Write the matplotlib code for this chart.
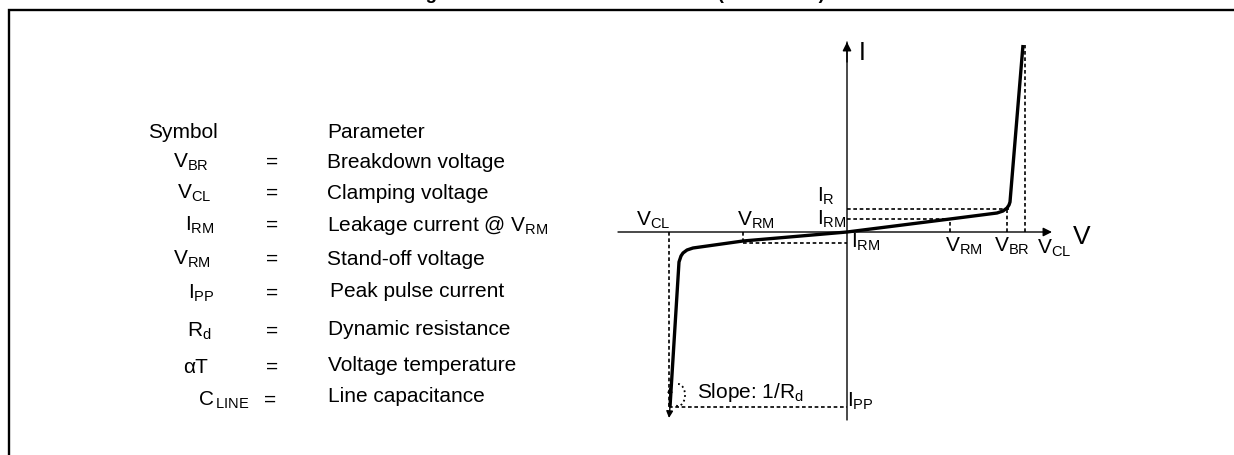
import matplotlib
matplotlib.use("Agg")
import matplotlib.pyplot as plt
from matplotlib.patches import Arc

plt.rcParams["font.family"] = ["Liberation Sans", "DejaVu Sans"]
plt.rcParams["mathtext.fontset"] = "custom"
plt.rcParams["mathtext.rm"] = "Liberation Sans"

# --- parameter table ---
symbols = [r"$\mathregular{V_{BR}}$", r"$\mathregular{V_{CL}}$", r"$\mathregular{I_{RM}}$",
           r"$\mathregular{V_{RM}}$", r"$\mathregular{I_{PP}}$", r"$\mathregular{R_{d}}$",
           "\u03b1T", r"$\mathregular{C_{\,LINE}}$"]
params = ["Breakdown voltage", "Clamping voltage", r"Leakage current @ $\mathregular{V_{RM}}$",
          "Stand-off voltage", "Peak pulse current", "Dynamic resistance",
          "Voltage temperature", "Line capacitance"]

# --- I/V characteristic (units: px from origin, V right, I up) ---
right_v = [0, 103, 150, 156, 160, 162, 163, 176]
right_i = [0, 13, 19, 21, 24, 27, 30, 187]
left_v = [0, -104, -154, -160, -164, -166, -168, -177]
left_i = [0, -9, -16, -18, -21, -24, -30, -175]

v_rm, v_br, v_cl = 103, 160, 178
v_rm_neg, v_cl_neg = -104, -178
i_rm, i_r, i_top = 13, 23, 187
i_rm_neg, i_pp, i_end = -11, -175, -186

fig = plt.figure(figsize=(12.34, 4.55), dpi=100)

# pixel-space layer for frame, title and table
ax = fig.add_axes([0, 0, 1, 1])
ax.set_xlim(0, 1234)
ax.set_ylim(455, 0)
ax.axis("off")

ax.plot([8.5, 8.5, 1240], [460, 10, 10], color="k", lw=1.7, solid_joinstyle="miter")
ax.text(617, -0.8, "Figure 2. Electrical characteristics (definitions)", ha="center",
        va="baseline", fontsize=13.5, fontweight="bold")

fs = 15
ax.text(148, 138, "Symbol", fontsize=fs, va="baseline")
ax.text(327, 138, "Parameter", fontsize=fs, va="baseline")
sym_x = [173, 177, 185, 173, 188, 187, 183, 198]
sym_y = [168, 199, 231, 265, 299, 337, 373, 406]
par_x = [327, 327, 327, 327, 330, 328, 328, 328]
par_y = [168, 199, 231, 265, 297, 335, 371, 402]
eq_x = [272, 272, 272, 272, 272, 272, 272, 270]
for k in range(len(symbols)):
    ax.text(sym_x[k], sym_y[k], symbols[k], fontsize=fs, va="baseline")
    ax.text(eq_x[k], sym_y[k], "=", fontsize=fs, va="baseline", ha="center")
    ax.text(par_x[k], par_y[k], params[k], fontsize=fs, va="baseline")

# diagram layer, origin at px (847, 232)
dg = fig.add_axes([0, 0, 1, 1])
dg.set_xlim(-847, 1234 - 847)
dg.set_ylim(-(455 - 232), 232)
dg.axis("off")
dg.patch.set_alpha(0)

arrow = dict(arrowstyle="-|>", color="k", lw=1.0, mutation_scale=13, shrinkA=0, shrinkB=0)
dg.annotate("", xy=(205, 0), xytext=(-229, 0), arrowprops=arrow)
dg.annotate("", xy=(0, 190), xytext=(0, -188), arrowprops=dict(arrow, arrowstyle="-"))
dg.annotate("", xy=(0, 190), xytext=(0, 170), arrowprops=arrow)

dash = dict(color="k", lw=1.2, linestyle=(0, (2.2, 1.6)))
dg.plot([0, v_br + 3], [i_r, i_r], **dash)
dg.plot([v_br, v_br], [0, i_r], **dash)
dg.plot([0, v_rm], [i_rm, i_rm], **dash)
dg.plot([v_rm, v_rm], [0, i_rm], **dash)
dg.plot([v_cl, v_cl], [0, i_top], **dash)
dg.plot([v_rm_neg, 0], [i_rm_neg, i_rm_neg], **dash)
dg.plot([v_rm_neg, v_rm_neg], [0, i_rm_neg], **dash)
dg.plot([v_cl_neg, v_cl_neg], [0, i_pp], **dash)
dg.plot([v_cl_neg, 0], [i_pp, i_pp], **dash)

curve = dict(color="k", lw=2.4, solid_joinstyle="round", solid_capstyle="butt")
dg.plot(right_v, right_i, **curve)
dg.plot(left_v, left_i, **curve)
dg.annotate("", xy=(v_cl_neg, i_end), xytext=(left_v[-1], left_i[-1]),
            arrowprops=dict(arrow, mutation_scale=10))
dg.add_patch(Arc((-169, -163), 14, 22, theta1=-100, theta2=105, color="k", lw=1.3, linestyle=":"))
dg.annotate("", xy=(-177, -155), xytext=(-177, -166), arrowprops=dict(arrow, mutation_scale=7))

lfs = 15
dg.text(12, 172, "I", fontsize=18, va="baseline")
dg.text(226, -12, "V", fontsize=19, va="baseline")
dg.text(-211, 6, r"$\mathregular{V_{CL}}$", fontsize=lfs, va="baseline")
dg.text(-110, 6, r"$\mathregular{V_{RM}}$", fontsize=lfs, va="baseline")
dg.text(-30, 30, r"$\mathregular{I_{R}}$", fontsize=lfs, va="baseline")
dg.text(-30, 7, r"$\mathregular{I_{RM}}$", fontsize=lfs, va="baseline")
dg.text(4, -16, r"$\mathregular{I_{RM}}$", fontsize=lfs, va="baseline")
dg.text(98, -20, r"$\mathregular{V_{RM}}$", fontsize=lfs, va="baseline")
dg.text(147, -20, r"$\mathregular{V_{BR}}$", fontsize=lfs, va="baseline")
dg.text(190, -22, r"$\mathregular{V_{CL}}$", fontsize=lfs, va="baseline")
dg.text(-150, -166, r"Slope: 1/$\mathregular{R_d}$", fontsize=lfs, va="baseline")
dg.text(0, -175, r"$\mathregular{I_{PP}}$", fontsize=lfs, va="baseline")

fig.savefig("out.png", dpi=100)
